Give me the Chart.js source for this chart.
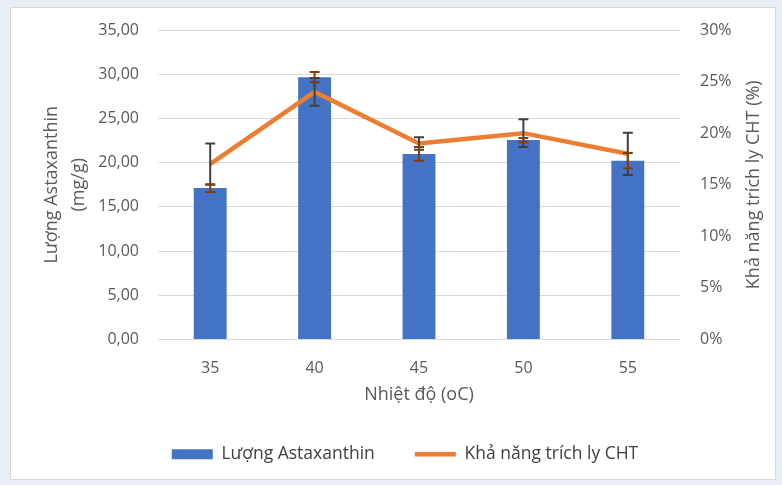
<!DOCTYPE html>
<html>
<head>
<meta charset="utf-8">
<script src="https://cdn.jsdelivr.net/npm/chart.js@4.4.1/dist/chart.umd.min.js"></script>
<style>
html, body { margin: 0; padding: 0; background: #e9edf4; }
#wrap { width: 782px; height: 485px; }
</style>
</head>
<body>
<div id="wrap"><canvas id="astaChart" width="782" height="485"></canvas></div>
<script>
// data
const temps = ['35', '40', '45', '50', '55'];
const astaxanthin = [17.12, 29.66, 20.98, 22.55, 20.22];
const astaErr = [0.44, 0.58, 0.78, 0.25, 0.86];
const extraction = [17.0, 24.0, 19.0, 20.0, 18.0];
const extractionErr = [2.0, 1.35, 0.6, 1.35, 2.05];

const fontFam = '"Open Sans", sans-serif';
const textCol = '#595959';

const panelBg = {
    id: 'panelBg',
    beforeDraw(chart) {
        const ctx = chart.ctx;
        ctx.save();
        ctx.fillStyle = '#e9edf4';
        ctx.fillRect(0, 0, chart.width, chart.height);
        ctx.fillStyle = '#ffffff';
        ctx.fillRect(10, 7, 766, 473);
        ctx.strokeStyle = '#d9d9d9';
        ctx.lineWidth = 1;
        ctx.strokeRect(10.5, 7.5, 765, 472);
        ctx.restore();
    }
};

const errorBars = {
    id: 'errorBars',
    afterDatasetsDraw(chart) {
        const ctx = chart.ctx;
        const sets = [
            { index: 1, err: extractionErr, color: '#404040', axis: 'y1' },
            { index: 0, err: astaErr, color: '#843c0c', axis: 'y' }
        ];
        sets.forEach(s => {
            const meta = chart.getDatasetMeta(s.index);
            const scale = chart.scales[s.axis];
            const values = chart.data.datasets[s.index].data;
            ctx.save();
            ctx.strokeStyle = s.color;
            ctx.lineWidth = 2;
            meta.data.forEach((el, i) => {
                const x = el.x;
                const yTop = scale.getPixelForValue(values[i] + s.err[i]);
                const yBot = scale.getPixelForValue(values[i] - s.err[i]);
                ctx.beginPath();
                ctx.moveTo(x, yTop); ctx.lineTo(x, yBot);
                ctx.moveTo(x - 5, yTop); ctx.lineTo(x + 5, yTop);
                ctx.moveTo(x - 5, yBot); ctx.lineTo(x + 5, yBot);
                ctx.stroke();
            });
            ctx.restore();
        });
    }
};

// both value axis titles drawn by hand: two-line left one, bottom-to-top right one
const axisTitles = {
    id: 'axisTitles',
    afterDraw(chart) {
        const ctx = chart.ctx;
        const ca = chart.chartArea;
        const midY = (ca.top + ca.bottom) / 2;
        ctx.save();
        ctx.font = '18px ' + fontFam;
        ctx.fillStyle = textCol;
        ctx.textAlign = 'center';
        ctx.textBaseline = 'middle';

        ctx.save();
        ctx.translate(52, midY);
        ctx.rotate(-Math.PI / 2);
        ctx.fillText('Lượng Astaxanthin', 0, 0);
        ctx.fillText('(mg/g)', 0, 27);
        ctx.restore();

        ctx.save();
        ctx.translate(754, midY);
        ctx.rotate(-Math.PI / 2);
        ctx.fillText('Khả năng trích ly CHT (%)', 0, 0);
        ctx.restore();

        ctx.restore();
    }
};

const ctx = document.getElementById('astaChart').getContext('2d');
const astaChart = new Chart(ctx, {
    type: 'bar',
    plugins: [panelBg, errorBars, axisTitles],
    data: {
        labels: temps,
        datasets: [
            {
                type: 'bar',
                label: 'Lượng Astaxanthin',
                data: astaxanthin,
                backgroundColor: '#4472c4',
                borderWidth: 0,
                categoryPercentage: 1,
                barPercentage: 0.315,
                pointStyle: 'rect',
                yAxisID: 'y',
                order: 1
            },
            {
                type: 'line',
                label: 'Khả năng trích ly CHT',
                data: extraction,
                borderColor: '#ed7d31',
                backgroundColor: '#ed7d31',
                borderWidth: 4.5,
                pointRadius: 0,
                pointStyle: 'line',
                tension: 0,
                yAxisID: 'y1',
                order: 0
            }
        ]
    },
    options: {
        responsive: false,
        animation: false,
        layout: {
            padding: { top: 30, bottom: 12, left: 28, right: 0 }
        },
        scales: {
            x: {
                grid: { display: false },
                border: { display: false },
                ticks: { color: textCol, font: { family: fontFam, size: 16 }, padding: 11 },
                title: {
                    display: true,
                    text: 'Nhiệt độ (oC)',
                    color: textCol,
                    font: { family: fontFam, size: 18 },
                    padding: { top: 0, bottom: 0 }
                },
                afterFit(scale) { scale.height = 66; }
            },
            y: {
                position: 'left',
                min: 0,
                max: 35,
                ticks: {
                    stepSize: 5,
                    padding: 19,
                    color: textCol,
                    font: { family: fontFam, size: 16 },
                    callback: v => v.toFixed(2).replace('.', ',')
                },
                grid: { color: '#d9d9d9', drawTicks: false },
                border: { display: false },
                afterFit(scale) { scale.width = 130; }
            },
            y1: {
                position: 'right',
                min: 0,
                max: 30,
                ticks: {
                    stepSize: 5,
                    padding: 20,
                    color: textCol,
                    font: { family: fontFam, size: 16 },
                    callback: v => v + '%'
                },
                grid: { drawOnChartArea: false, drawTicks: false },
                border: { display: false },
                afterFit(scale) { scale.width = 102; }
            }
        },
        plugins: {
            legend: {
                position: 'bottom',
                labels: {
                    usePointStyle: true,
                    pointStyleWidth: 41,
                    boxHeight: 10,
                    padding: 40,
                    color: '#404040',
                    font: { family: fontFam, size: 17.5 },
                    sort: (a, b) => a.datasetIndex - b.datasetIndex
                }
            },
            tooltip: { enabled: false }
        }
    }
});
</script>
</body>
</html>
